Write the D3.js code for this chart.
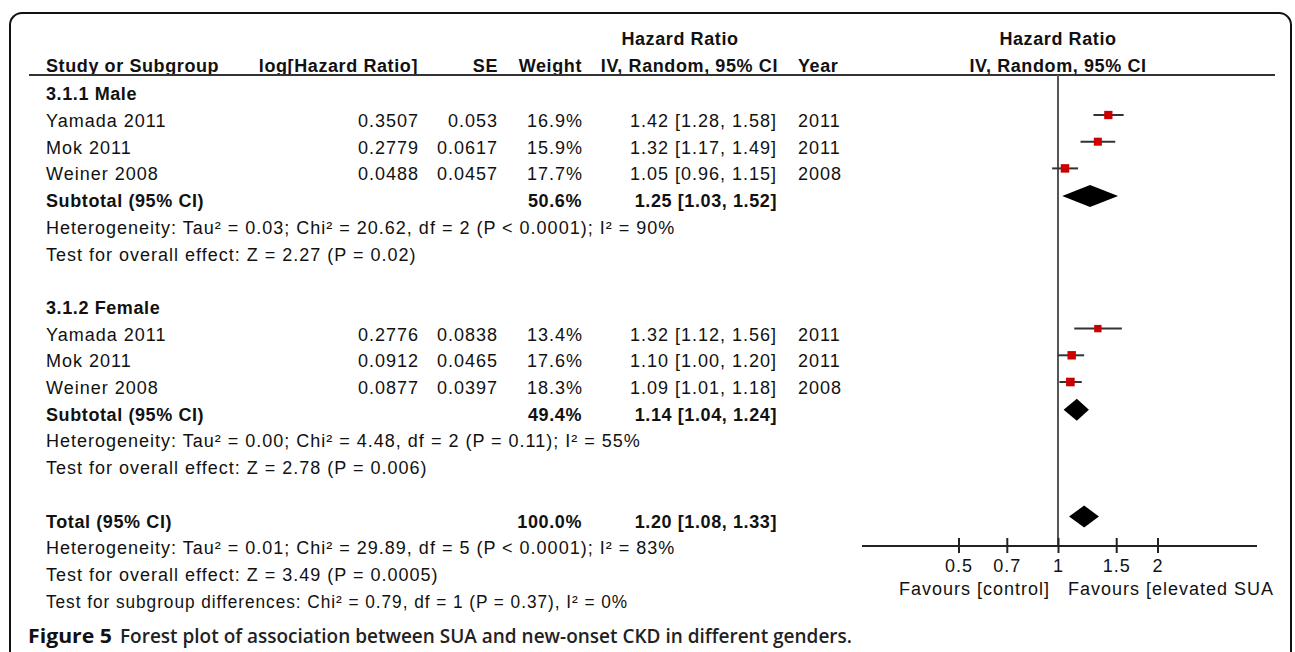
<!DOCTYPE html>
<html>
<head>
<meta charset="utf-8">
<script src="https://cdn.jsdelivr.net/npm/d3@7"></script>
<style>
  body { margin: 0; background: #fff; }
  svg text { font-family: "Liberation Sans", Arial, sans-serif; fill: #111; }
  .reg { font-size: 18px; letter-spacing: 1px; }
  .bold { font-size: 18px; font-weight: bold; letter-spacing: 0.6px; }
</style>
</head>
<body>
<div id="chart"></div>
<script>
// --- data ---
var groupLabels = ["3.1.1 Male", "3.1.2 Female"];

var maleStudies = ["Yamada 2011", "Mok 2011", "Weiner 2008"];
var maleLogHR   = ["0.3507", "0.2779", "0.0488"];
var maleSE      = ["0.053", "0.0617", "0.0457"];
var maleWeight  = [16.9, 15.9, 17.7];
var maleHR      = [1.42, 1.32, 1.05];
var maleLo      = [1.28, 1.17, 0.96];
var maleHi      = [1.58, 1.49, 1.15];
var maleYear    = [2011, 2011, 2008];

var femaleStudies = ["Yamada 2011", "Mok 2011", "Weiner 2008"];
var femaleLogHR   = ["0.2776", "0.0912", "0.0877"];
var femaleSE      = ["0.0838", "0.0465", "0.0397"];
var femaleWeight  = [13.4, 17.6, 18.3];
var femaleHR      = [1.32, 1.10, 1.09];
var femaleLo      = [1.12, 1.00, 1.01];
var femaleHi      = [1.56, 1.20, 1.18];
var femaleYear    = [2011, 2011, 2008];

var subWeight = [50.6, 49.4];
var subHR     = [1.25, 1.14];
var subLo     = [1.03, 1.04];
var subHi     = [1.52, 1.24];

var totalWeight = 100.0, totalHR = 1.20, totalLo = 1.08, totalHi = 1.33;

var hetText = [
  "Heterogeneity: Tau\u00b2 = 0.03; Chi\u00b2 = 20.62, df = 2 (P < 0.0001); I\u00b2 = 90%",
  "Heterogeneity: Tau\u00b2 = 0.00; Chi\u00b2 = 4.48, df = 2 (P = 0.11); I\u00b2 = 55%",
  "Heterogeneity: Tau\u00b2 = 0.01; Chi\u00b2 = 29.89, df = 5 (P < 0.0001); I\u00b2 = 83%"
];
var effectText = [
  "Test for overall effect: Z = 2.27 (P = 0.02)",
  "Test for overall effect: Z = 2.78 (P = 0.006)",
  "Test for overall effect: Z = 3.49 (P = 0.0005)"
];
var subgroupText = "Test for subgroup differences: Chi\u00b2 = 0.79, df = 1 (P = 0.37), I\u00b2 = 0%";

var axisTicks = [0.5, 0.7, 1, 1.5, 2];
var favourLeft = "Favours [control]";
var favourRight = "Favours [elevated SUA";
var captionBold = "Figure 5";
var captionRest = "Forest plot of association between SUA and new-onset CKD in different genders.";

// --- layout ---
var svg = d3.select("#chart").append("svg").attr("width", 1295).attr("height", 652);

var rowY = d3.scaleLinear().domain([0, 1]).range([100.3, 127]);   // text baseline per row index
var x = d3.scaleLog().domain([0.25, 4]).range([859, 1257]);
var sq = d3.scaleSqrt().domain([0, 18.3]).range([0, 8.6]);
var fmt = d3.format(".2f");
var ci = function (h, l, u) { return fmt(h) + " [" + fmt(l) + ", " + fmt(u) + "]"; };

// frame
svg.append("rect").attr("x", 10).attr("y", 13).attr("width", 1281).attr("height", 720)
    .attr("rx", 12).attr("fill", "none").attr("stroke", "#111").attr("stroke-width", 2);

function txt(s, xx, yy, cls, anchor) {
    return svg.append("text").attr("x", xx).attr("y", yy).attr("class", cls)
        .attr("text-anchor", anchor || "start").text(s);
}

// headers
txt("Hazard Ratio", 680, 45, "bold", "middle");
txt("Hazard Ratio", 1058, 45, "bold", "middle");
txt("Study or Subgroup", 46, 72, "bold");
txt("log[Hazard Ratio]", 418, 72, "bold", "end");
txt("SE", 498, 72, "bold", "end");
txt("Weight", 582, 72, "bold", "end");
txt("IV, Random, 95% CI", 778, 72, "bold", "end");
txt("Year", 798, 72, "bold");
txt("IV, Random, 95% CI", 1058, 72, "bold", "middle");

svg.append("line").attr("x1", 29).attr("x2", 1275).attr("y1", 75).attr("y2", 75)
    .attr("stroke", "#333").attr("stroke-width", 2);

// reference line at HR = 1 and axis
svg.append("line").attr("x1", x(1)).attr("x2", x(1)).attr("y1", 75).attr("y2", 546)
    .attr("stroke", "#555").attr("stroke-width", 2);

var axisG = svg.append("g").attr("transform", "translate(0,546)");
axisG.call(d3.axisBottom(x).tickValues(axisTicks).tickFormat(d3.format("")).tickSize(0).tickPadding(0));
axisG.select(".domain").remove();
axisG.append("line").attr("x1", 862).attr("x2", 1257).attr("stroke", "#222").attr("stroke-width", 2);
axisG.selectAll(".tick line").remove();
axisG.selectAll(".tick").append("line").attr("y1", -8).attr("y2", 7)
    .attr("stroke", "#222").attr("stroke-width", 2);
axisG.selectAll(".tick text").attr("y", 26).attr("dy", null)
    .attr("style", "font-family:'Liberation Sans',Arial,sans-serif;font-size:18px;letter-spacing:1px;fill:#111");

txt(favourLeft, 1050, 595, "reg", "end");
txt(favourRight, 1068, 595, "reg");

// study rows
function drawStudies(start, names, lhr, se, w, hr, lo, hi, yr) {
    names.forEach(function (n, i) {
        var r = start + i, y = rowY(r);
        txt(n, 46, y, "reg");
        txt(lhr[i], 419, y, "reg", "end");
        txt(se[i], 498, y, "reg", "end");
        txt(w[i].toFixed(1) + "%", 583, y, "reg", "end");
        txt(ci(hr[i], lo[i], hi[i]), 777, y, "reg", "end");
        txt(yr[i], 798, y, "reg");
        var cy = y - 12;
        svg.append("line").attr("x1", x(lo[i])).attr("x2", x(hi[i])).attr("y1", cy).attr("y2", cy)
            .attr("stroke", "#333").attr("stroke-width", 2);
        var s = sq(w[i]);
        svg.append("rect").attr("x", x(hr[i]) - s / 2).attr("y", cy - s / 2)
            .attr("width", s).attr("height", s).attr("fill", "#cc0000");
    });
}

function diamond(r, h, l, u) {
    var cy = rowY(r) - 11;
    var pts = [[x(l), cy], [x(h), cy - 11], [x(u), cy], [x(h), cy + 11]];
    svg.append("path").attr("d", d3.line()(pts) + "Z").attr("fill", "#000");
}

function summary(r, label, w, h, l, u) {
    var y = rowY(r);
    txt(label, 46, y, "bold");
    txt(w.toFixed(1) + "%", 582, y, "bold", "end");
    txt(ci(h, l, u), 777, y, "bold", "end");
    diamond(r, h, l, u);
}

txt(groupLabels[0], 46, rowY(0), "bold");
drawStudies(1, maleStudies, maleLogHR, maleSE, maleWeight, maleHR, maleLo, maleHi, maleYear);
summary(4, "Subtotal (95% CI)", subWeight[0], subHR[0], subLo[0], subHi[0]);
txt(hetText[0], 46, rowY(5), "reg");
txt(effectText[0], 46, rowY(6), "reg");

txt(groupLabels[1], 46, rowY(8), "bold");
drawStudies(9, femaleStudies, femaleLogHR, femaleSE, femaleWeight, femaleHR, femaleLo, femaleHi, femaleYear);
summary(12, "Subtotal (95% CI)", subWeight[1], subHR[1], subLo[1], subHi[1]);
txt(hetText[1], 46, rowY(13), "reg");
txt(effectText[1], 46, rowY(14), "reg");

summary(16, "Total (95% CI)", totalWeight, totalHR, totalLo, totalHi);
txt(hetText[2], 46, rowY(17), "reg");
txt(effectText[2], 46, rowY(18), "reg");
txt(subgroupText, 46, rowY(19), "reg")
    .attr("textLength", 582).attr("lengthAdjust", "spacingAndGlyphs");

// caption
svg.append("rect").attr("x", 0).attr("y", 622).attr("width", 1295).attr("height", 30).attr("fill", "#fff");
svg.append("line").attr("x1", 10).attr("x2", 10).attr("y1", 600).attr("y2", 652).attr("stroke", "#111").attr("stroke-width", 2);
svg.append("line").attr("x1", 1291).attr("x2", 1291).attr("y1", 600).attr("y2", 652).attr("stroke", "#111").attr("stroke-width", 2);
svg.append("text").attr("x", 28).attr("y", 643).attr("textLength", 84).attr("lengthAdjust", "spacingAndGlyphs")
    .style("font-family", "'Open Sans', 'Liberation Sans', sans-serif")
    .style("font-size", "19px").style("font-weight", "bold").style("fill", "#111").text(captionBold);
svg.append("text").attr("x", 120).attr("y", 643).attr("textLength", 732).attr("lengthAdjust", "spacingAndGlyphs")
    .style("font-family", "'Open Sans', 'Liberation Sans', sans-serif")
    .style("font-size", "19px").style("font-weight", "600").style("fill", "#222").text(captionRest);
</script>
</body>
</html>
